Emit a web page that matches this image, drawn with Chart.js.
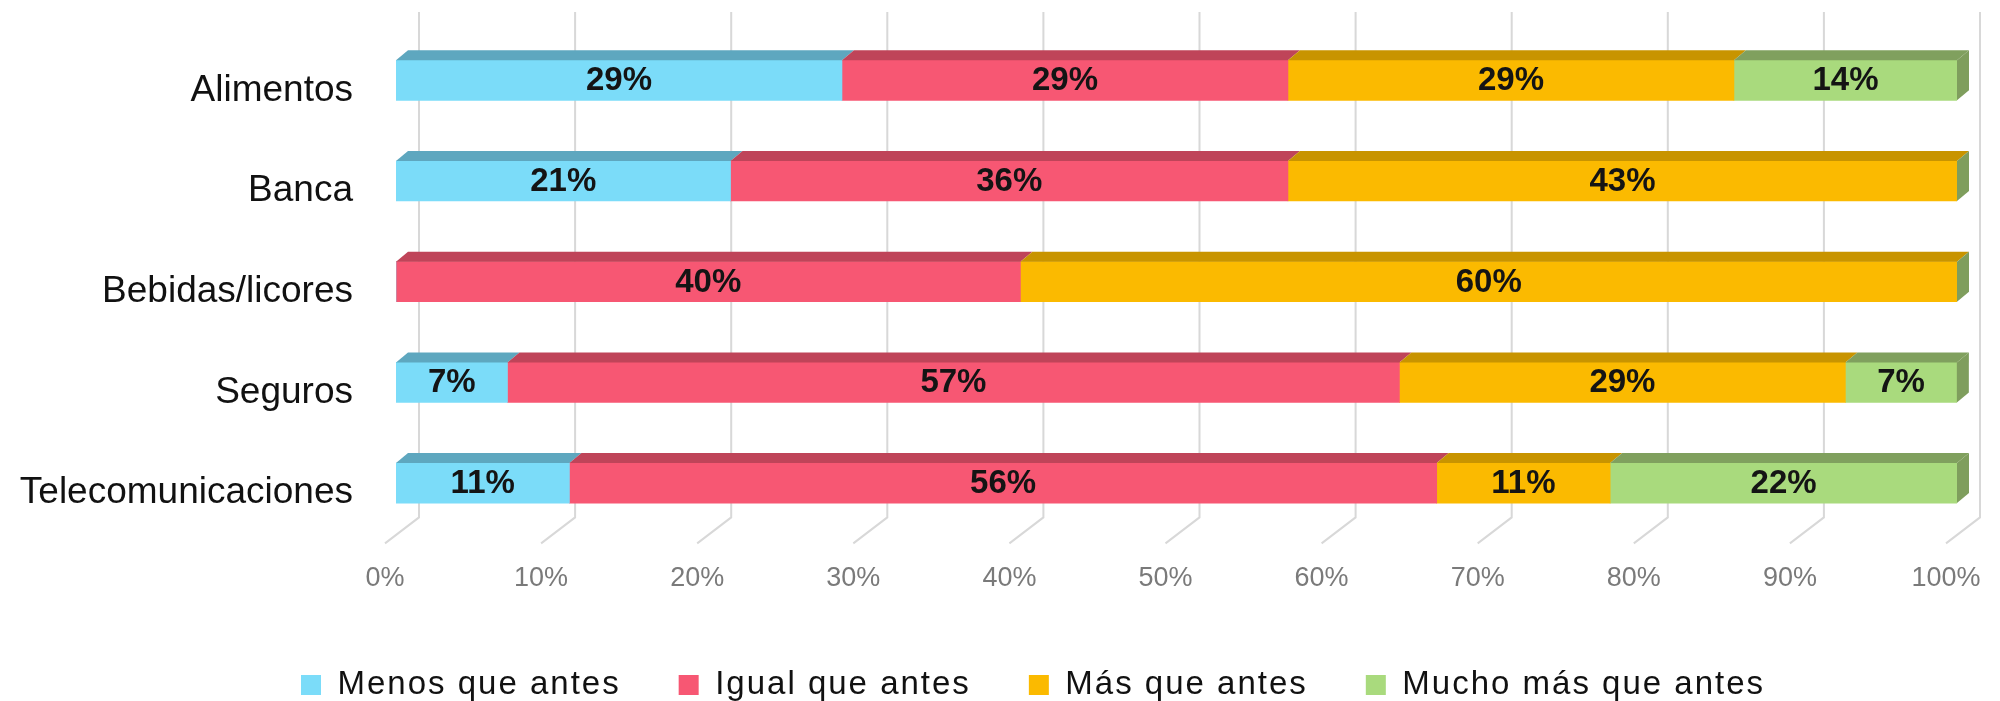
<!DOCTYPE html>
<html>
<head>
<meta charset="utf-8">
<script src="https://cdn.jsdelivr.net/npm/chart.js@4.4.0/dist/chart.umd.min.js"></script>
<style>
html,body{margin:0;padding:0;background:#ffffff;}
#wrap{width:2000px;height:701px;position:relative;}
</style>
</head>
<body>
<div id="wrap"><canvas id="c" width="2000" height="701"></canvas></div>
<script>
// ---- data ----
const categories = ['Alimentos', 'Banca', 'Bebidas/licores', 'Seguros', 'Telecomunicaciones'];
const seriesNames = ['Menos que antes', 'Igual que antes', 'Más que antes', 'Mucho más que antes'];
const menosQueAntes    = [28.57, 21.43, 0,     7.14, 11.11];
const igualQueAntes    = [28.57, 35.71, 40,    57.14, 55.56];
const masQueAntes      = [28.57, 42.86, 60,    28.57, 11.11];
const muchoMasQueAntes = [14.29, 0,     0,     7.14, 22.22];
const tickValues = [0, 10, 20, 30, 40, 50, 60, 70, 80, 90, 100];
const tickLabels = ['0%', '10%', '20%', '30%', '40%', '50%', '60%', '70%', '80%', '90%', '100%'];

// ---- styles ----
const frontColors = ['#7BDCF9', '#F75773', '#FBBA00', '#A9DA7D'];
const topColors   = ['#5EA7BF', '#BF4459', '#C89400', '#80A05E'];
const sideColor   = '#7F9E5D';
const DX = 12, DY = 10;
const FONT = '"Liberation Sans", Arial, sans-serif';

const threeD = {
  id: 'threeD',
  beforeDatasetsDraw(chart) {
    const ctx = chart.ctx, xs = chart.scales.x, ca = chart.chartArea;
    ctx.save();
    ctx.strokeStyle = '#d8d8d8';
    ctx.lineWidth = 2;
    tickValues.forEach(v => {
      const xf = xs.getPixelForValue(v);
      ctx.beginPath();
      ctx.moveTo(xf + 23, ca.top - 18);
      ctx.lineTo(xf + 23, ca.bottom - 16);
      ctx.lineTo(xf - 11, ca.bottom + 10);
      ctx.stroke();
    });
    ctx.restore();
  },
  afterDatasetsDraw(chart) {
    const ctx = chart.ctx;
    const n = chart.data.labels.length;
    const metas = chart.data.datasets.map((ds, d) => chart.getDatasetMeta(d));
    ctx.save();
    for (let i = 0; i < n; i++) {
      metas.forEach((meta, d) => {
        const el = meta.data[i];
        const v = chart.data.datasets[d].data[i];
        if (!v) return;
        const p = el.getProps(['x', 'y', 'base', 'height'], true);
        const l = Math.min(p.x, p.base), r = Math.max(p.x, p.base);
        const t = p.y - p.height / 2;
        ctx.fillStyle = topColors[d];
        ctx.beginPath();
        ctx.moveTo(l, t);
        ctx.lineTo(l + DX, t - DY);
        ctx.lineTo(r + DX, t - DY);
        ctx.lineTo(r, t);
        ctx.closePath();
        ctx.fill();
      });
      // right side face at the end of the stack
      const last = metas[metas.length - 1].data[i];
      const p = last.getProps(['x', 'y', 'base', 'height'], true);
      const r = Math.max(p.x, p.base);
      const t = p.y - p.height / 2, b = p.y + p.height / 2;
      ctx.fillStyle = sideColor;
      ctx.beginPath();
      ctx.moveTo(r, t);
      ctx.lineTo(r + DX, t - DY);
      ctx.lineTo(r + DX, b - DY);
      ctx.lineTo(r, b);
      ctx.closePath();
      ctx.fill();
    }
    // value labels
    ctx.font = 'bold 33px ' + FONT;
    ctx.fillStyle = '#141414';
    ctx.textAlign = 'center';
    ctx.textBaseline = 'middle';
    chart.data.datasets.forEach((ds, d) => {
      metas[d].data.forEach((el, i) => {
        const v = ds.data[i];
        if (!v) return;
        const p = el.getProps(['x', 'y', 'base'], true);
        ctx.fillText(Math.round(v) + '%', (p.x + p.base) / 2, p.y + 1);
      });
    });
    ctx.restore();
  }
};

const LS = '2px';
const LEGEND_SHIFT = 54.5;
const legendSpacing = {
  id: 'legendSpacing',
  afterInit(chart) {
    const lg = chart.legend;
    if (!lg) return;
    const fit = lg.fit.bind(lg), draw = lg.draw.bind(lg);
    lg.fit = function () { const c = chart.ctx; c.save(); c.letterSpacing = LS; fit(); c.restore(); };
    lg.draw = function (a) {
      const c = chart.ctx; c.save(); c.letterSpacing = LS; c.translate(LEGEND_SHIFT, 0); draw(a); c.restore();
    };
  }
};

const seriesData = [menosQueAntes, igualQueAntes, masQueAntes, muchoMasQueAntes];

new Chart(document.getElementById('c'), {
  type: 'bar',
  data: {
    labels: categories,
    datasets: seriesNames.map((name, d) => ({
      label: name,
      data: seriesData[d],
      backgroundColor: frontColors[d],
      borderWidth: 0,
      barThickness: 40
    }))
  },
  options: {
    indexAxis: 'y',
    responsive: false,
    animation: false,
    events: [],
    layout: { padding: { top: 30, right: 43, bottom: -10.5, left: 0 } },
    scales: {
      x: {
        stacked: true,
        min: 0, max: 100,
        grid: { display: false, drawTicks: false },
        border: { display: false },
        afterFit(scale) { scale.height = 77.1; scale.paddingLeft = 0; scale.paddingRight = 0; },
        afterBuildTicks(scale) { scale.ticks = tickValues.map(v => ({ value: v })); },
        ticks: {
          padding: 29,
          labelOffset: -11,
          color: '#7a7a7a',
          font: { family: FONT, size: 27 },
          maxRotation: 0,
          autoSkip: false,
          callback: (v, i) => tickLabels[i]
        }
      },
      y: {
        stacked: true,
        grid: { display: false, drawTicks: false },
        border: { display: false },
        afterFit(scale) { scale.width = 396; scale.paddingTop = 0; scale.paddingBottom = 0; },
        ticks: {
          padding: 43,
          labelOffset: 10,
          color: '#111111',
          font: { family: FONT, size: 37 }
        }
      }
    },
    plugins: {
      legend: {
        position: 'bottom',
        labels: {
          boxWidth: 20,
          boxHeight: 20,
          padding: 58,
          color: '#111111',
          font: { family: FONT, size: 33 }
        }
      },
      tooltip: { enabled: false }
    }
  },
  plugins: [threeD, legendSpacing]
});
</script>
</body>
</html>
